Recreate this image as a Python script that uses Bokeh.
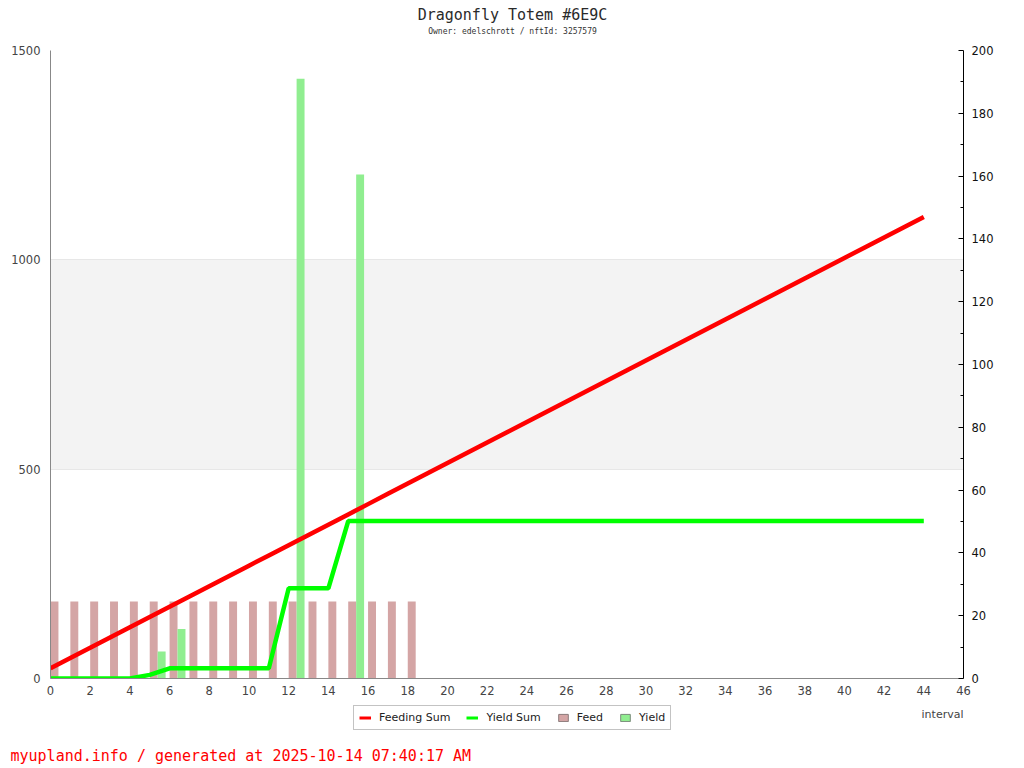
from bokeh.plotting import figure
from bokeh.layouts import column
from bokeh.models import (Range1d, LinearAxis, FixedTicker, Label, Legend, LegendItem,
                          BoxAnnotation, ColumnDataSource, Title)
from bokeh.embed import file_html
from bokeh.resources import INLINE

# ---- data ----
title_text = "Dragonfly Totem #6E9C"
subtitle_text = "Owner: edelschrott / nftId: 3257579"
footer_text = "myupland.info / generated at 2025-10-14 07:40:17 AM"
x_axis_title = "interval"
series_names = ["Feeding Sum", "Yield Sum", "Feed", "Yield"]

sum_intervals = [0, 1, 2, 3, 4, 5, 6, 7, 8, 9, 10, 11, 12, 13, 14, 15, 16, 17, 18, 19, 20, 21,
                 22, 23, 24, 25, 26, 27, 28, 29, 30, 31, 32, 33, 34, 35, 36, 37, 38, 39, 40, 41,
                 42, 43, 44]
feeding_sum = [24.5, 49, 73.5, 98, 122.5, 147, 171.5, 196, 220.5, 245, 269.5, 294, 318.5, 343,
               367.5, 392, 416.5, 441, 465.5, 490, 514.5, 539, 563.5, 588, 612.5, 637, 661.5,
               686, 710.5, 735, 759.5, 784, 808.5, 833, 857.5, 882, 906.5, 931, 955.5, 980,
               1004.5, 1029, 1053.5, 1078, 1102.5]
yield_sum = [0, 0, 0, 0, 0, 8.6, 24.4, 24.4, 24.4, 24.4, 24.4, 24.4, 215.4, 215.4, 215.4,
             375.9, 375.9, 375.9, 375.9, 375.9, 375.9, 375.9, 375.9, 375.9, 375.9, 375.9,
             375.9, 375.9, 375.9, 375.9, 375.9, 375.9, 375.9, 375.9, 375.9, 375.9, 375.9,
             375.9, 375.9, 375.9, 375.9, 375.9, 375.9, 375.9, 375.9]

feed_intervals = [0, 1, 2, 3, 4, 5, 6, 7, 8, 9, 10, 11, 12, 13, 14, 15, 16, 17, 18]
feed_values = [24.5, 24.5, 24.5, 24.5, 24.5, 24.5, 24.5, 24.5, 24.5, 24.5, 24.5, 24.5, 24.5,
               24.5, 24.5, 24.5, 24.5, 24.5, 24.5]

yield_intervals = [5, 6, 12, 15]
yield_values = [8.6, 15.8, 191, 160.5]

x_ticks = [0, 2, 4, 6, 8, 10, 12, 14, 16, 18, 20, 22, 24, 26, 28, 30, 32, 34, 36, 38, 40, 42, 44, 46]
left_ticks = [0, 500, 1000, 1500]
right_ticks = [0, 20, 40, 60, 80, 100, 120, 140, 160, 180, 200]
right_minor = [10, 30, 50, 70, 90, 110, 130, 150, 170, 190]

FONT = "DejaVu Sans"
MONO = "DejaVu Sans Mono"
RED = "#ff0000"
GREEN = "#00ff00"
FEED_C = "#d4a5a5"
YIELD_C = "#90ee90"

W = 1024
BL, BR = 50, 61          # shared left / right borders (frames are aligned in a column)
FW = W - BL - BR         # frame width 913
HEAD_H = 40
MAIN_H = 662
FOOT_H = 66
FOOT_FRAME_H = 42


def blank(height, bottom=0):
    f = figure(width=W, height=height, output_backend="svg", toolbar_location=None,
               x_range=Range1d(0, FW), y_range=Range1d(0, height - bottom),
               x_axis_type=None, y_axis_type=None,
               min_border_left=BL, min_border_right=BR,
               min_border_top=0, min_border_bottom=bottom,
               outline_line_color=None, background_fill_color="white",
               border_fill_color="white")
    f.xgrid.visible = False
    f.ygrid.visible = False
    return f


# ---- header ----
head = blank(HEAD_H)
head.add_layout(Label(x=512 - BL, y=HEAD_H - 14, text=title_text,
                      text_font=MONO, text_font_size="15px", text_color="#2a2a2a",
                      text_align="center", text_baseline="middle"))
head.add_layout(Label(x=512 - BL, y=HEAD_H - 31, text=subtitle_text,
                      text_font=MONO, text_font_size="8px", text_color="#333333",
                      text_align="center", text_baseline="middle"))

# ---- main chart ----
p = figure(width=W, height=MAIN_H, output_backend="svg", toolbar_location=None,
           x_range=Range1d(0, 46), y_range=Range1d(0, 1500),
           min_border_left=BL, min_border_right=BR, min_border_top=10, min_border_bottom=24,
           outline_line_color=None, background_fill_color="white", border_fill_color="white")
p.extra_y_ranges = {"right": Range1d(0, 200)}

p.add_layout(BoxAnnotation(bottom=500, top=1000, fill_color="#f3f3f3", fill_alpha=1.0,
                           line_color=None, level="underlay"))

p.xaxis.ticker = FixedTicker(ticks=x_ticks)
p.yaxis.ticker = FixedTicker(ticks=left_ticks)
for ax in (p.xaxis[0], p.yaxis[0]):
    ax.axis_line_color = "#888888"
    ax.major_tick_line_color = None
    ax.minor_tick_line_color = None
    ax.major_tick_in = 0
    ax.major_tick_out = 0
    ax.minor_tick_in = 0
    ax.minor_tick_out = 0
    ax.major_label_text_font = FONT
    ax.major_label_text_font_size = "11.5px"
    ax.major_label_text_color = "#444444"
p.yaxis.major_label_standoff = 10
p.xaxis.major_label_standoff = 7

raxis = LinearAxis(y_range_name="right",
                   ticker=FixedTicker(ticks=right_ticks, minor_ticks=right_minor))
raxis.axis_line_color = "black"
raxis.major_tick_line_color = "black"
raxis.minor_tick_line_color = "black"
raxis.major_tick_in = 5
raxis.major_tick_out = 0
raxis.minor_tick_in = 3
raxis.minor_tick_out = 0
raxis.major_label_standoff = 8
raxis.major_label_text_font = FONT
raxis.major_label_text_font_size = "11.5px"
raxis.major_label_text_color = "#111111"
p.add_layout(raxis, "right")

p.xgrid.grid_line_color = None
p.ygrid.grid_line_color = "#e3e3e3"
p.ygrid.ticker = FixedTicker(ticks=left_ticks)

feed_src = ColumnDataSource(dict(x=[i + 0.2 for i in feed_intervals], top=feed_values))
yield_src = ColumnDataSource(dict(x=[i + 0.6 for i in yield_intervals], top=yield_values))
sum_src = ColumnDataSource(dict(x=sum_intervals, fs=feeding_sum, ys=yield_sum))
p.vbar(x="x", top="top", width=0.4, source=feed_src, y_range_name="right",
       fill_color=FEED_C, line_color=None)
p.vbar(x="x", top="top", width=0.4, source=yield_src, y_range_name="right",
       fill_color=YIELD_C, line_color=None)
p.line(x="x", y="fs", source=sum_src, line_color=RED, line_width=4.5)
p.line(x="x", y="ys", source=sum_src, line_color=GREEN, line_width=4.5)

# ---- footer: legend, axis title, credit line ----
foot = blank(FOOT_H, bottom=FOOT_H - FOOT_FRAME_H)
# hidden copies of the series, used only to draw the legend swatches
l1 = foot.line(x="x", y="fs", source=sum_src, line_color=RED, line_width=3, visible=False)
l2 = foot.line(x="x", y="ys", source=sum_src, line_color=GREEN, line_width=3, visible=False)
b1 = foot.vbar(x="x", top="top", width=0.4, source=feed_src, fill_color=FEED_C,
               line_color="#8a7a7a", line_width=1, visible=False)
b2 = foot.vbar(x="x", top="top", width=0.4, source=yield_src, fill_color=YIELD_C,
               line_color="#7a8a7a", line_width=1, visible=False)
legend = Legend(items=[LegendItem(label=series_names[0], renderers=[l1]),
                       LegendItem(label=series_names[1], renderers=[l2]),
                       LegendItem(label=series_names[2], renderers=[b1]),
                       LegendItem(label=series_names[3], renderers=[b2])],
                orientation="horizontal", location=(353 - BL, FOOT_FRAME_H - 28),
                glyph_width=12, glyph_height=9, label_height=13, label_standoff=8,
                spacing=16, padding=5, margin=0,
                label_text_font=FONT, label_text_font_size="11px", label_text_color="#222222",
                border_line_color="#888888", border_line_width=1,
                background_fill_color="white", background_fill_alpha=1.0,
                inactive_fill_alpha=0.0, click_policy="none")
foot.add_layout(legend, "center")
foot.add_layout(Label(x=FW, y=FOOT_FRAME_H - 12, text=x_axis_title,
                      text_font=FONT, text_font_size="11px", text_color="#444444",
                      text_align="right", text_baseline="middle"))
foot.add_layout(Title(text=footer_text, align="left", offset=10 - BL, standoff=2,
                      vertical_align="middle",
                      text_font=MONO, text_font_size="15px", text_color=RED,
                      text_font_style="normal"), "below")

layout = column(head, p, foot, spacing=0)
open("out.html", "w").write(file_html(layout, INLINE))
